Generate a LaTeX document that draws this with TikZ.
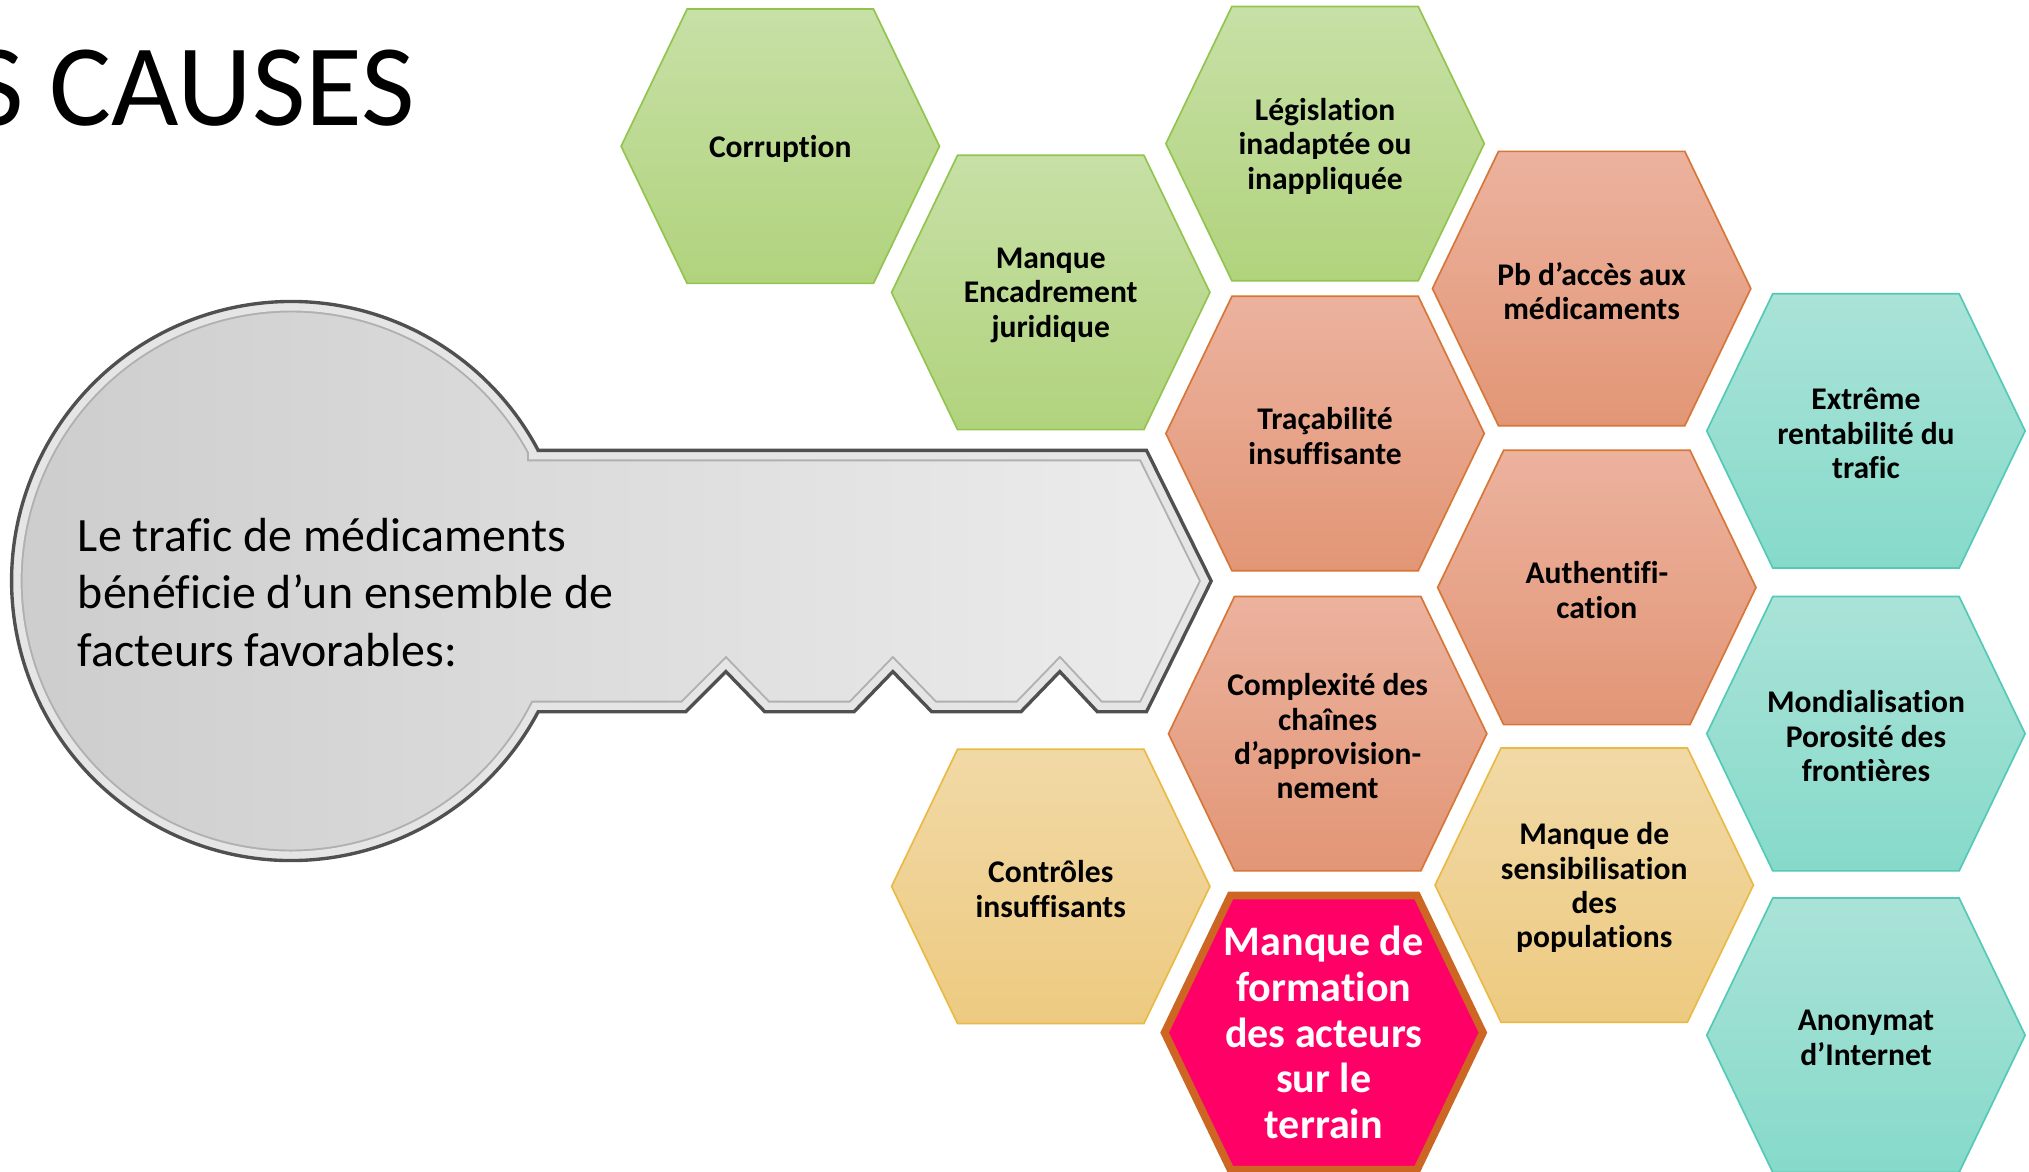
\documentclass[tikz,border=0pt]{standalone}
\usepackage{fontspec}
\setmainfont{Carlito}[Ligatures={TeX,NoCommon}]
\definecolor{grTop}{RGB}{199,224,166}
\definecolor{grBot}{RGB}{177,211,125}
\definecolor{grLine}{RGB}{146,196,80}
\definecolor{saTop}{RGB}{236,178,158}
\definecolor{saBot}{RGB}{226,150,118}
\definecolor{saLine}{RGB}{214,118,55}
\definecolor{taTop}{RGB}{241,217,166}
\definecolor{taBot}{RGB}{237,202,128}
\definecolor{taLine}{RGB}{234,186,70}
\definecolor{teTop}{RGB}{170,227,216}
\definecolor{teBot}{RGB}{134,218,202}
\definecolor{teLine}{RGB}{84,202,182}
\definecolor{pkFill}{RGB}{255,0,102}
\definecolor{pkLine}{RGB}{204,102,34}
\definecolor{keyDark}{RGB}{204,204,204}
\definecolor{keyLight}{RGB}{237,237,237}
\definecolor{keyOut}{RGB}{80,80,80}
\definecolor{keyBand}{RGB}{229,229,229}
\definecolor{keyInner}{RGB}{176,176,176}

\newcommand{\hexcell}[6]{%
  \path[#4] ({#2-123},{#3}) -- ({#2-72},{#3-106}) -- ({#2+72},{#3-106}) -- ({#2+123},{#3}) -- ({#2+72},{#3+106}) -- ({#2-72},{#3+106}) -- cycle;
  \node[#5] (#1) at (#2,#3) {#6};}

\newcommand{\keyoutline}{(415.9,348) -- (886,348) -- (936,449) -- (886,550) -- (848,550) -- (819,519) -- (789,550) -- (720,550) -- (690,519) -- (660,550) -- (591,550) -- (561,519) -- (530,550) -- (415.9,550) arc[start angle=27.88, end angle=332.12, radius=216] -- cycle}

\begin{document}
\begin{tikzpicture}[x=1pt,y=-1pt,
  hexG/.style={top color=grTop,bottom color=grBot,draw=grLine,line width=1.3pt},
  hexS/.style={top color=saTop,bottom color=saBot,draw=saLine,line width=1.3pt},
  hexY/.style={top color=taTop,bottom color=taBot,draw=taLine,line width=1.3pt},
  hexC/.style={top color=teTop,bottom color=teBot,draw=teLine,line width=1.3pt},
  hexP/.style={fill=pkFill,draw=pkLine,line width=6pt},
  hexT/.style={align=center,inner sep=0pt,yshift=-2pt,font=\fontsize{24.4}{26.6}\selectfont\bfseries},
  hexPT/.style={align=center,inner sep=0pt,text=white,font=\fontsize{32.5}{35.3}\selectfont\bfseries},
]
\useasboundingbox (0,0) rectangle (1568,905);
\fill[white] (0,0) rectangle (1568,905);

\node[anchor=base east, inner sep=0pt, font=\fontsize{90}{100}\selectfont] (title) at (321,97) {S CAUSES};

% key
\fill[left color=keyDark, right color=keyLight] \keyoutline;
\begin{scope}
  \clip \keyoutline;
  \draw[keyInner, line width=17pt] \keyoutline;
  \draw[keyBand, line width=14pt] \keyoutline;
\end{scope}
\draw[keyOut, line width=2.6pt] \keyoutline;
\node[anchor=north west, align=left, inner sep=0pt, font=\fontsize{37}{44.5}\selectfont] (keytext) at (60,400) {Le trafic de médicaments\\bénéficie d’un ensemble de\\facteurs favorables:};

% hexagons
\hexcell{corr}{603}{113}{hexG}{hexT}{Corruption}
\hexcell{encad}{812}{226}{hexG}{hexT}{Manque\\Encadrement\\juridique}
\hexcell{legis}{1024}{111}{hexG}{hexT}{Législation\\inadaptée ou\\inappliquée}
\hexcell{pbacc}{1230}{223}{hexS}{hexT}{Pb d’accès aux\\médicaments}
\hexcell{traca}{1024}{335}{hexS}{hexT}{Traçabilité\\insuffisante}
\hexcell{authen}{1234}{454}{hexS}{hexT}{Authentifi-\\cation}
\hexcell{complex}{1026}{567}{hexS}{hexT}{Complexité des\\chaînes\\d’approvision-\\nement}
\hexcell{controle}{812}{685}{hexY}{hexT}{Contrôles\\insuffisants}
\hexcell{sensib}{1232}{684}{hexY}{hexT}{Manque de\\sensibilisation\\des\\populations}
\hexcell{rentab}{1442}{333}{hexC}{hexT}{Extrême\\rentabilité du\\trafic}
\hexcell{mondial}{1442}{567}{hexC}{hexT}{Mondialisation\\Porosité des\\frontières}
\hexcell{anonym}{1442}{800}{hexC}{hexT}{Anonymat\\d’Internet}
\hexcell{formation}{1023}{798}{hexP}{hexPT}{Manque de\\formation\\des acteurs\\sur le\\terrain}
\end{tikzpicture}
\end{document}
